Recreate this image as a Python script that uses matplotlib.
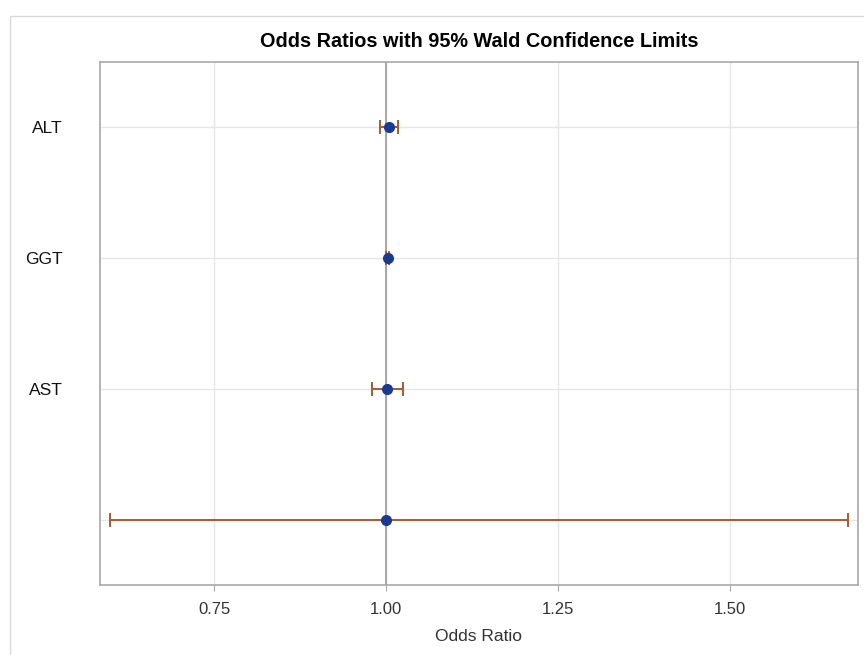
import matplotlib.pyplot as plt
from matplotlib.patches import Rectangle

# Odds ratio estimates and 95% Wald limits
effects = ["ALT", "GGT", "AST", ""]
odds_ratio = [1.004, 1.002, 1.001, 1.000]
lower_cl = [0.991, 1.000, 0.979, 0.599]
upper_cl = [1.017, 1.004, 1.024, 1.672]
x_ticks = [0.75, 1.00, 1.25, 1.50]

plt.rcParams['font.family'] = ['Liberation Sans', 'DejaVu Sans']

fig = plt.figure(figsize=(8.64, 6.55), dpi=100)
ax = fig.add_axes([100/864, 1 - 585/655, 758/864, 523/655])

# light frame round the whole graph, as in the output viewer
fig.add_artist(Rectangle((10/864, -0.05), 1.0, 1 - 16/655 + 0.05,
                         transform=fig.transFigure, fill=False,
                         edgecolor="#d8d8d8", linewidth=1.0))

ypos = list(range(len(effects)))

ax.axvline(1.0, color="#9a9a9a", linewidth=1.2, zorder=1)

ax.errorbar(odds_ratio, ypos,
            xerr=[[o - l for o, l in zip(odds_ratio, lower_cl)],
                  [u - o for o, u in zip(odds_ratio, upper_cl)]],
            fmt="none", ecolor="#a85a32", elinewidth=1.4,
            capsize=5, capthick=1.4, zorder=2)
ax.plot(odds_ratio, ypos, "o", color="#1a3a8f", markersize=7, zorder=3)

ax.set_xlim(0.584, 1.686)
ax.set_ylim(3.5, -0.5)
ax.set_xticks(x_ticks)
ax.set_xticklabels(["%.2f" % t for t in x_ticks])
ax.set_yticks(ypos)
ax.set_yticklabels(effects)

ax.grid(True, color="#e6e6e6", linewidth=1.0)
ax.set_axisbelow(True)
for s in ax.spines.values():
    s.set_color("#a8a8a8")
    s.set_linewidth(1.2)

ax.tick_params(axis="x", colors="#a8a8a8", labelcolor="#333333",
               labelsize=12, length=4, pad=8)
ax.tick_params(axis="y", length=0, labelcolor="#111111",
               labelsize=12.5, pad=27)

ax.set_xlabel("Odds Ratio", fontsize=12.5, color="#333333", labelpad=9)
ax.set_title("Odds Ratios with 95% Wald Confidence Limits",
             fontsize=14.3, fontweight="bold", pad=11)

fig.savefig("out.png", dpi=100)
